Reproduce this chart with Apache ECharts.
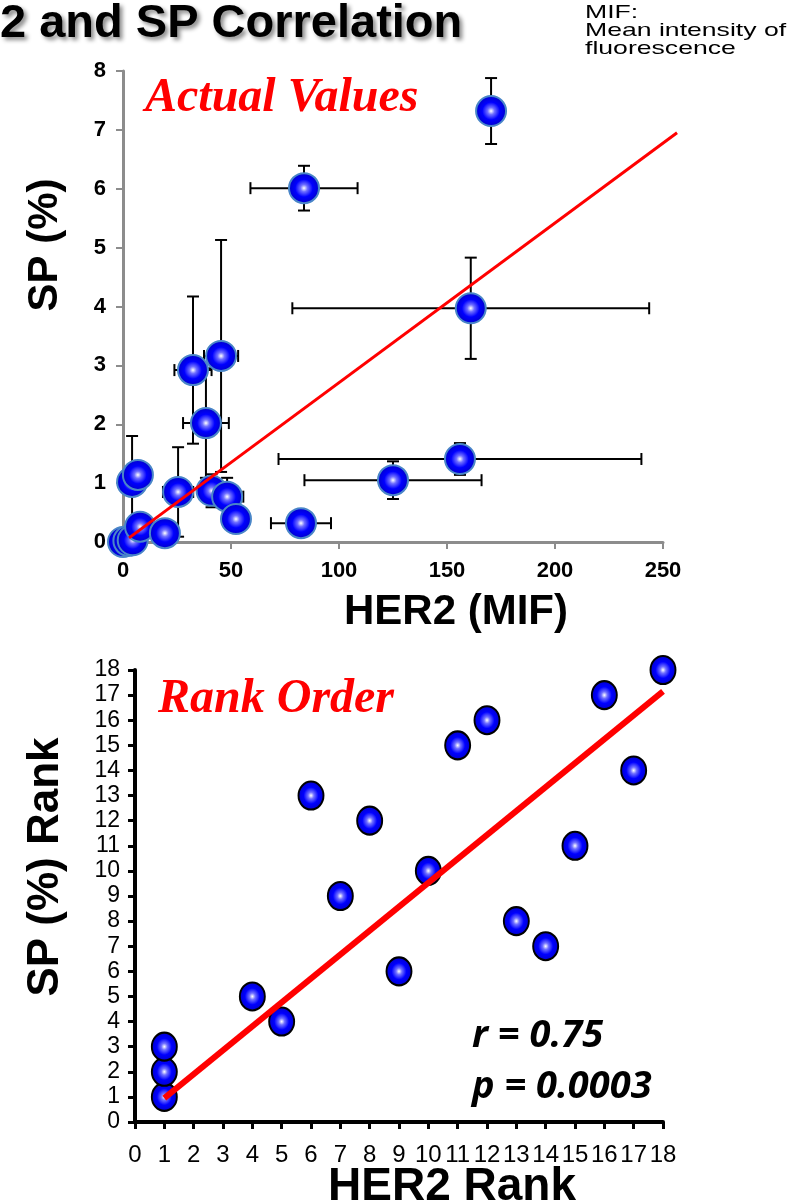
<!DOCTYPE html>
<html>
<head>
<meta charset="utf-8">
<script src="https://cdn.jsdelivr.net/npm/echarts@6/dist/echarts.min.js"></script>
<style>
  html, body { margin: 0; padding: 0; background: #fff; }
  #main { width: 794px; height: 1203px; }
</style>
</head>
<body>
<div id="main"></div>
<script>
// top panel: actual values (mean +/- sd)
var herMif = [0, 2.5, 4.5, 7.9, 4.2, 6.9, 19.4, 25.5, 32.4, 38.4, 41, 45.4, 48.2, 52.3, 82.4, 83.8, 125, 156, 161, 170.4];
var spPct  = [0, 0.02, 0.03, 0.26, 1.02, 1.14, 0.15, 0.85, 2.92, 2.02, 0.87, 3.16, 0.77, 0.39, 0.32, 6.01, 1.05, 1.41, 3.97, 7.32];
var herSd  = [0, 0, 0, 0, 0, 0, 0, 7, 8.6, 10.6, 5, 7.9, 7.5, 0, 13.9, 24.8, 41, 84, 82.6, 0];
var spSd   = [0, 0, 0, 0, 0.78, 0, 0, 0.76, 1.25, 0.93, 0.28, 1.97, 0.32, 0, 0, 0.38, 0.32, 0.27, 0.86, 0.56];
var fitActual = [2.8, 0.07, 256.5, 6.95];   // x1, y1, x2, y2

// bottom panel: rank order
var herRank = [1, 1, 1, 4, 5, 6, 7, 8, 9, 10, 11, 12, 13, 14, 15, 16, 17, 18];
var spRank  = [1, 2, 3, 5, 4, 13, 9, 12, 6, 10, 15, 16, 8, 7, 11, 17, 14, 18];
var fitRank = [[1, 0.95], [18, 17.15]];

var chart = echarts.init(document.getElementById('main'));

function ball() {
  return new echarts.graphic.RadialGradient(0.5, 0.5, 0.5, [
    { offset: 0, color: '#ffffff' },
    { offset: 0.22, color: '#7070ff' },
    { offset: 0.55, color: '#0000ff' },
    { offset: 1, color: '#0000c8' }
  ]);
}

var actualPts = herMif.map(function (x, i) { return [x, spPct[i], herSd[i], spSd[i]]; });
var rankPts = herRank.map(function (x, i) { return [x, spRank[i]]; });

function errorBars(params, api) {
  var x = api.value(0), y = api.value(1), dx = api.value(2), dy = api.value(3);
  var c = api.coord([x, y]);
  var cap = 6;
  var st = { stroke: '#000', lineWidth: 2 };
  var kids = [];
  if (dx > 0) {
    var l = api.coord([x - dx, y]), r = api.coord([x + dx, y]);
    kids.push({ type: 'line', shape: { x1: l[0], y1: c[1], x2: r[0], y2: c[1] }, style: st });
    kids.push({ type: 'line', shape: { x1: l[0], y1: c[1] - cap, x2: l[0], y2: c[1] + cap }, style: st });
    kids.push({ type: 'line', shape: { x1: r[0], y1: c[1] - cap, x2: r[0], y2: c[1] + cap }, style: st });
  }
  if (dy > 0) {
    var t = api.coord([x, y + dy]), b = api.coord([x, y - dy]);
    kids.push({ type: 'line', shape: { x1: c[0], y1: t[1], x2: c[0], y2: b[1] }, style: st });
    kids.push({ type: 'line', shape: { x1: c[0] - cap, y1: t[1], x2: c[0] + cap, y2: t[1] }, style: st });
    kids.push({ type: 'line', shape: { x1: c[0] - cap, y1: b[1], x2: c[0] + cap, y2: b[1] }, style: st });
  }
  return { type: 'group', children: kids };
}

// trend line that runs a little past the axis end, like the original
function fitLine(params, api) {
  var a = api.coord([api.value(0), api.value(1)]);
  var b = api.coord([api.value(2), api.value(3)]);
  return { type: 'line', shape: { x1: a[0], y1: a[1], x2: b[0], y2: b[1] }, style: { stroke: '#ff0000', lineWidth: 3 } };
}

var grayAxis = { lineStyle: { color: '#8c8c8c', width: 3 } };
var blackAxis = { lineStyle: { color: '#000', width: 4 } };

chart.setOption({
  animation: false,
  grid: [
    { left: 123, top: 71, width: 540, height: 471 },
    { left: 135, top: 670, width: 528, height: 452 }
  ],
  xAxis: [
    {
      gridIndex: 0, type: 'value', min: 0, max: 250, interval: 50,
      axisLine: grayAxis, splitLine: { show: false },
      axisTick: { show: true, length: 7, lineStyle: { color: '#8c8c8c', width: 2 } },
      axisLabel: { color: '#000', fontWeight: 'bold', fontSize: 22, fontFamily: 'Liberation Sans', margin: 18 }
    },
    {
      gridIndex: 1, type: 'value', min: 0, max: 18, interval: 1,
      axisLine: blackAxis, splitLine: { show: false },
      axisTick: { show: true, length: 7, lineStyle: { color: '#000', width: 3 } },
      axisLabel: { color: '#000', fontSize: 24, fontFamily: 'Liberation Sans', margin: 21, hideOverlap: false }
    }
  ],
  yAxis: [
    {
      gridIndex: 0, type: 'value', min: 0, max: 8, interval: 1,
      axisLine: grayAxis, splitLine: { show: false },
      axisTick: { show: true, length: 7, lineStyle: { color: '#8c8c8c', width: 2 } },
      axisLabel: { color: '#000', fontWeight: 'bold', fontSize: 22, fontFamily: 'Liberation Sans', margin: 17 }
    },
    {
      gridIndex: 1, type: 'value', min: 0, max: 18, interval: 1,
      axisLine: blackAxis, splitLine: { show: false },
      axisTick: { show: true, length: 7, lineStyle: { color: '#000', width: 3 } },
      axisLabel: { color: '#000', fontSize: 23, fontFamily: 'Liberation Sans', margin: 15, hideOverlap: false }
    }
  ],
  series: [
    {
      type: 'custom', xAxisIndex: 0, yAxisIndex: 0, z: 2, clip: false,
      renderItem: errorBars, data: actualPts
    },
    {
      type: 'scatter', xAxisIndex: 0, yAxisIndex: 0, z: 3,
      symbolSize: 30, data: actualPts,
      itemStyle: { color: ball(), borderColor: '#4a86c8', borderWidth: 2, opacity: 1 }
    },
    {
      type: 'custom', xAxisIndex: 0, yAxisIndex: 0, z: 4, clip: false,
      renderItem: fitLine, data: [fitActual]
    },
    {
      type: 'scatter', xAxisIndex: 1, yAxisIndex: 1, z: 3,
      symbolSize: [25, 28], data: rankPts,
      itemStyle: { color: ball(), borderColor: '#000', borderWidth: 2, opacity: 1 }
    },
    {
      type: 'line', xAxisIndex: 1, yAxisIndex: 1, z: 4,
      symbol: 'none', data: fitRank,
      lineStyle: { color: '#ff0000', width: 6 }
    }
  ],
  graphic: [
    {
      type: 'text', left: 0, top: 1,
      style: {
        text: '2 and SP Correlation', fill: '#000',
        font: 'bold 47px "Liberation Sans"',
        textShadowColor: 'rgba(0,0,0,0.45)', textShadowBlur: 4, textShadowOffsetX: 3, textShadowOffsetY: 3
      }
    },
    {
      type: 'text', x: 585, y: 4, scaleX: 1.4,
      style: { text: 'MIF:\nMean intensity of\nfluorescence', fill: '#000', font: '19px "Liberation Sans"', lineHeight: 18 }
    },
    {
      type: 'text', left: 145, top: 75,
      style: { text: 'Actual Values', fill: '#ff0000', font: 'italic bold 48px "Liberation Serif"' }
    },
    {
      type: 'text', left: 158, top: 676,
      style: { text: 'Rank Order', fill: '#ff0000', font: 'italic bold 48px "Liberation Serif"' }
    },
    {
      type: 'text', left: 472, top: 1017,
      style: { text: 'r = 0.75', fill: '#000', font: 'italic bold 38px "Open Sans"' }
    },
    {
      type: 'text', left: 472, top: 1068,
      style: { text: 'p = 0.0003', fill: '#000', font: 'italic bold 38px "Open Sans"' }
    },
    {
      type: 'text', x: 456, y: 612,
      style: { text: 'HER2 (MIF)', fill: '#000', font: 'bold 42px "Liberation Sans"', align: 'center', verticalAlign: 'middle' }
    },
    {
      type: 'text', x: 45, y: 245, rotation: Math.PI / 2,
      style: { text: 'SP (%)', fill: '#000', font: 'bold 42px "Liberation Sans"', align: 'center', verticalAlign: 'middle' }
    },
    {
      type: 'text', x: 452, y: 1187,
      style: { text: 'HER2 Rank', fill: '#000', font: 'bold 46px "Liberation Sans"', align: 'center', verticalAlign: 'middle' }
    },
    {
      type: 'text', x: 46, y: 867, rotation: Math.PI / 2,
      style: { text: 'SP (%) Rank', fill: '#000', font: 'bold 44px "Liberation Sans"', align: 'center', verticalAlign: 'middle' }
    }
  ]
});
</script>
</body>
</html>
